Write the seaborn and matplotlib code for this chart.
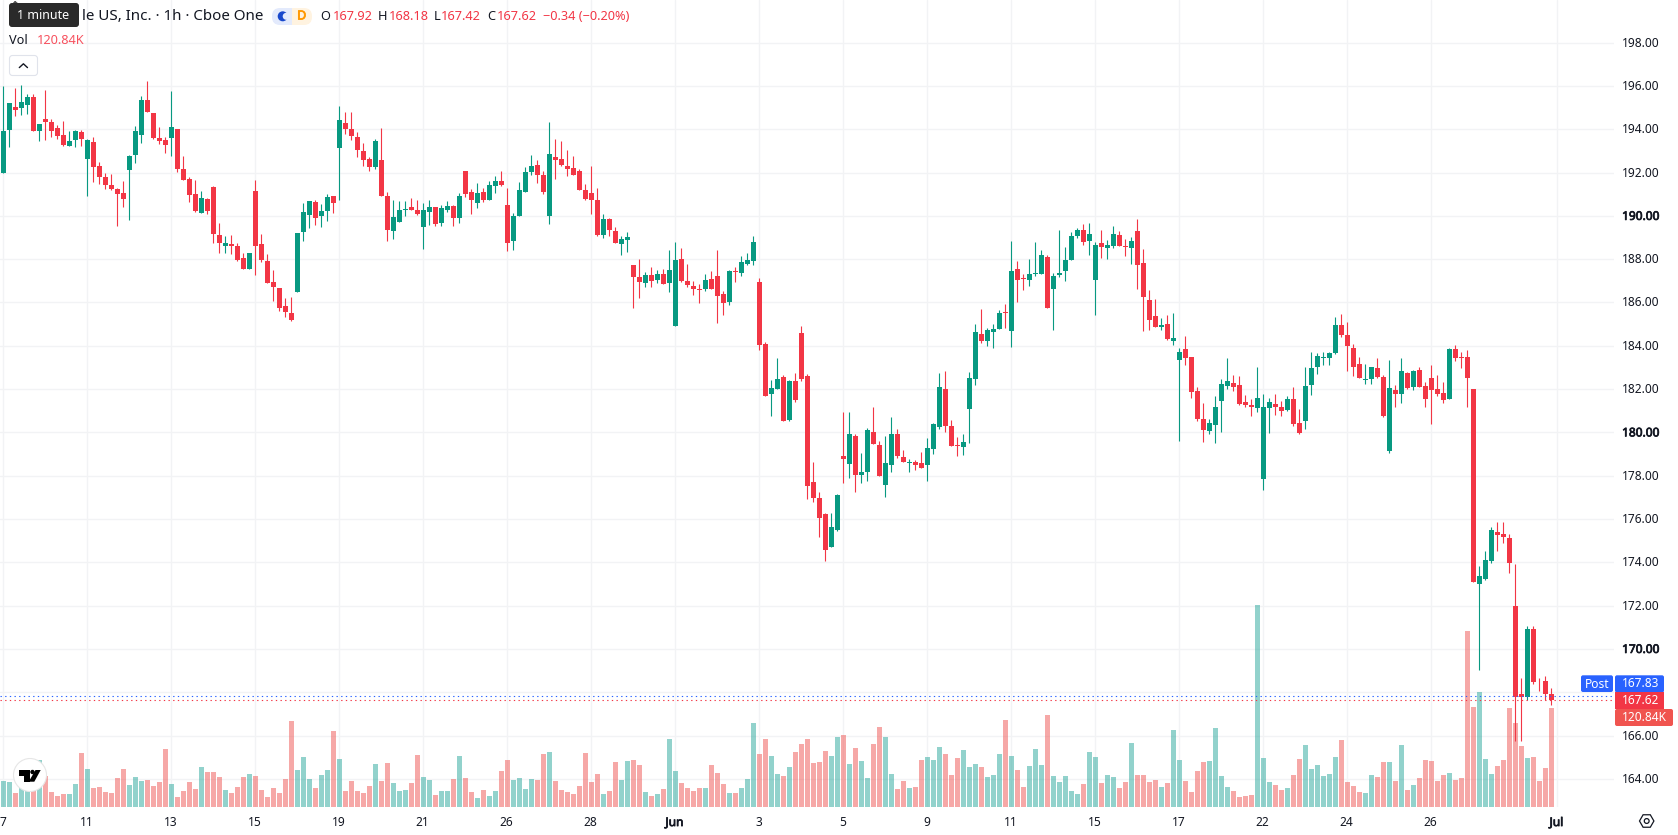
import matplotlib
matplotlib.use("Agg")
import matplotlib.patheffects as path_effects
import matplotlib.pyplot as plt
import matplotlib.transforms as mtransforms
from matplotlib.lines import Line2D
from matplotlib.patches import Circle, FancyBboxPatch, Polygon, Rectangle, RegularPolygon
import numpy as np
import pandas as pd
import seaborn as sns

# Hourly candles, oldest first (USD)
open_prices = [
    192.00,193.97,195.03,194.99,195.12,195.49,193.92,194.48,194.34,194.06,
    193.74,193.23,193.51,193.88,192.63,193.42,192.31,191.80,191.43,191.25,
    191.06,192.12,192.82,193.74,195.35,194.75,193.60,193.51,193.60,194.02,
    192.17,191.71,191.02,190.14,190.79,191.34,189.12,188.62,188.71,188.62,
    188.06,187.55,191.15,188.71,187.92,186.95,186.68,185.85,185.52,186.49,
    189.26,190.05,190.65,190.00,190.23,190.92,193.14,194.29,194.02,193.65,
    193.00,192.63,192.26,192.59,190.92,189.31,189.72,190.28,190.42,190.28,
    189.49,190.19,190.42,189.68,190.28,190.46,189.91,192.08,191.11,190.60,
    191.11,190.74,191.39,191.62,190.51,188.85,190.00,191.11,192.03,192.35,
    191.89,190.00,192.72,192.63,192.31,192.22,192.08,191.20,191.06,190.74,
    189.12,189.86,189.31,188.71,188.89,187.74,187.19,186.91,187.28,187.05,
    187.32,186.91,184.92,188.02,187.00,186.77,186.63,186.63,187.09,187.23,
    186.40,186.03,187.46,187.37,187.79,187.92,186.95,184.09,181.79,182.02,
    182.57,180.59,182.39,184.60,182.62,177.72,176.99,176.25,174.72,175.51,
    178.92,178.56,179.85,178.05,178.19,180.03,179.43,177.59,178.51,179.94,
    178.88,178.60,178.65,178.60,178.51,179.25,180.26,182.02,180.31,179.43,
    179.34,181.09,182.48,184.56,184.23,184.65,184.79,185.57,184.69,187.56,
    187.14,187.05,187.32,187.32,188.11,186.63,187.28,187.46,187.97,189.08,
    189.36,188.85,187.05,188.76,188.52,188.62,189.12,188.62,188.52,189.31,
    187.83,186.12,185.39,184.87,185.01,184.23,183.35,183.86,183.49,181.92,
    180.63,180.07,180.35,181.46,182.15,182.29,182.20,181.41,181.27,181.14,
    177.86,181.14,181.32,181.18,181.04,181.55,180.44,180.54,182.20,183.03,
    183.44,183.44,183.67,184.97,184.50,183.90,183.17,182.43,182.47,182.98,
    182.57,179.15,181.97,181.78,182.75,182.10,182.89,182.15,182.52,182.01,
    181.83,181.55,183.86,183.49,183.49,182.02,173.02,173.25,174.04,175.42,
    175.33,175.14,172.00,167.94,167.76,170.94,168.54,168.50,167.92,
]
high_prices = [
    196.00,195.22,195.91,196.05,195.63,195.63,194.25,195.82,194.48,194.20,
    194.39,193.92,193.97,193.97,193.55,193.65,192.49,191.99,191.94,191.29,
    191.62,192.82,194.15,195.54,196.23,194.75,194.11,193.65,195.77,194.02,
    192.77,191.80,191.66,191.15,190.83,191.39,189.68,189.08,189.12,188.75,
    188.29,188.29,191.66,189.17,188.25,187.51,186.68,186.22,186.26,189.22,
    190.60,190.69,190.74,190.55,191.02,190.92,195.08,194.80,194.80,193.88,
    193.37,192.72,193.55,194.06,191.11,190.74,190.69,190.69,190.83,190.74,
    190.60,190.74,190.42,190.51,190.69,190.51,191.06,192.08,191.25,191.52,
    191.29,191.62,191.85,192.08,191.29,190.14,191.57,192.26,192.82,192.59,
    192.08,194.34,193.55,193.46,193.05,192.77,192.17,191.48,192.31,191.29,
    190.09,189.91,189.49,189.08,189.26,187.74,188.01,187.42,187.65,187.51,
    187.55,188.43,188.80,188.52,187.79,187.00,186.86,187.32,187.46,188.43,
    186.54,187.51,187.65,188.15,188.29,189.08,187.14,184.19,182.43,183.45,
    182.66,182.43,182.75,184.92,182.71,178.65,177.26,176.29,176.29,177.17,
    180.96,180.96,179.94,179.06,180.22,181.19,179.62,179.85,180.72,180.17,
    179.20,178.79,178.74,179.11,179.76,180.45,182.76,182.85,180.59,179.80,
    179.94,182.80,185.02,185.71,184.83,185.02,185.66,185.94,188.85,187.92,
    187.32,188.02,188.80,188.43,188.20,187.37,189.36,188.57,189.26,189.45,
    189.63,189.68,188.80,189.36,188.89,189.54,189.31,188.94,189.03,189.86,
    188.48,186.59,186.17,185.29,185.43,185.52,183.90,184.46,183.49,182.10,
    181.37,180.63,181.69,182.47,183.44,182.66,182.61,181.74,181.55,183.03,
    181.78,181.60,181.78,181.46,181.69,182.10,181.09,183.03,183.72,183.67,
    183.72,183.72,185.34,185.47,185.10,184.09,183.49,183.17,183.03,183.44,
    182.66,183.35,182.20,183.44,182.80,182.89,183.03,182.34,183.12,182.66,
    182.34,183.90,184.04,183.72,183.81,182.02,173.85,174.50,175.65,175.84,
    175.84,175.33,173.90,168.64,171.08,171.08,168.68,168.73,168.18,
]
low_prices = [
    192.00,193.20,194.59,194.66,194.71,193.92,193.46,193.51,193.65,193.55,
    193.23,193.23,193.18,193.23,190.92,191.57,191.48,191.25,191.20,189.54,
    190.42,189.82,192.45,193.37,194.80,193.55,193.32,192.91,192.77,192.03,
    191.66,190.65,190.19,190.14,190.09,188.75,188.29,188.29,188.25,187.92,
    187.55,187.55,187.28,187.88,186.91,186.08,185.62,185.34,185.15,186.49,
    188.85,189.45,189.59,189.49,189.77,190.14,190.74,193.79,193.51,192.72,
    192.31,192.08,192.17,190.92,188.85,188.94,189.72,190.00,190.28,190.05,
    188.48,189.59,189.54,189.54,190.19,189.54,189.68,190.88,190.09,190.37,
    190.65,190.74,191.06,191.39,188.39,188.43,190.00,191.11,191.89,191.52,
    191.02,189.63,191.71,192.31,191.85,191.89,191.20,190.74,190.09,189.08,
    188.99,189.08,188.75,188.20,188.34,185.75,186.22,186.72,186.72,186.91,
    186.86,186.49,184.92,186.95,186.72,186.35,185.99,186.54,186.63,185.06,
    185.43,185.89,186.95,187.23,187.74,187.74,183.82,181.69,180.77,182.02,
    180.54,180.54,181.42,182.39,176.94,176.80,175.19,174.08,174.72,175.46,
    177.68,177.91,177.26,177.68,177.77,179.48,178.00,177.03,178.19,178.83,
    178.65,178.19,178.28,178.37,177.77,179.02,180.17,180.03,179.39,178.92,
    178.97,179.52,182.20,184.14,184.00,183.91,184.79,184.83,183.96,186.03,
    186.59,186.77,187.23,187.32,185.76,184.74,187.19,187.00,187.97,188.99,
    188.66,188.20,185.43,188.06,188.02,188.52,188.62,188.16,187.79,186.63,
    184.69,184.74,184.88,184.74,184.27,184.04,179.61,183.12,181.60,180.54,
    179.57,179.94,179.52,180.03,182.01,181.92,181.27,181.18,180.77,180.95,
    177.35,179.98,180.81,180.77,181.00,180.30,179.94,180.17,181.74,182.70,
    183.12,183.12,183.63,184.41,182.84,182.61,182.52,182.24,182.24,182.52,
    180.72,179.06,181.18,181.37,182.01,181.97,182.10,181.18,180.40,181.69,
    181.37,181.55,183.30,182.98,181.18,173.08,169.05,173.20,173.99,174.50,
    174.91,173.53,165.77,165.77,167.62,168.36,168.04,167.62,167.42,
]
close_prices = [
    193.92,195.22,194.89,195.26,195.49,193.92,194.25,194.34,193.92,193.69,
    193.28,193.46,193.92,193.55,193.51,192.26,191.80,191.43,191.25,191.02,
    190.79,192.77,193.92,195.35,194.80,193.60,193.46,193.28,194.11,192.17,
    191.66,190.97,190.23,190.83,190.23,189.17,188.75,188.75,188.62,187.97,
    187.55,188.29,188.62,187.97,186.91,186.72,185.75,185.57,185.20,189.22,
    190.19,190.69,189.91,190.23,190.88,190.60,194.43,194.02,193.69,193.05,
    192.59,192.26,193.46,190.92,189.35,189.95,190.28,190.32,190.28,190.09,
    190.28,190.42,189.63,190.37,190.46,189.91,190.92,191.02,190.74,191.06,
    190.74,191.43,191.62,191.43,188.75,190.00,191.20,192.03,192.31,191.89,
    191.11,192.86,192.59,192.35,192.17,191.89,191.20,190.79,190.74,189.12,
    189.86,189.35,188.75,188.94,189.03,187.19,186.95,187.28,187.00,187.32,
    186.86,187.51,187.97,187.00,186.82,186.63,186.59,187.05,186.63,186.31,
    185.99,187.46,187.42,187.88,187.97,188.80,184.05,181.69,182.06,182.48,
    180.54,182.39,181.51,182.48,177.54,176.99,176.06,174.59,175.65,177.12,
    178.79,179.94,178.05,178.19,180.12,179.48,178.00,178.60,179.94,178.92,
    178.65,178.65,178.51,178.37,179.29,180.40,182.11,180.31,179.39,179.39,
    179.57,182.52,184.65,184.23,184.74,184.79,185.52,185.52,187.46,187.05,
    187.09,187.32,187.37,188.20,185.76,187.23,187.37,187.97,189.08,189.36,
    188.80,189.17,188.66,188.57,188.66,189.17,188.62,188.57,188.85,187.74,
    186.26,185.20,184.88,184.97,184.32,184.37,183.72,183.44,181.87,180.63,
    180.12,180.44,181.18,182.24,182.38,182.10,181.32,181.27,181.18,181.60,
    181.18,181.41,181.18,181.00,181.55,180.40,179.98,182.15,182.98,183.54,
    183.49,183.67,184.97,184.50,184.00,183.03,182.52,182.47,183.03,182.57,
    180.77,182.06,181.78,182.84,182.06,182.84,182.10,181.55,181.97,181.78,
    181.50,183.86,183.44,183.44,182.52,173.08,173.39,174.13,175.51,175.24,
    175.19,173.99,167.80,167.76,170.94,168.45,168.50,167.94,167.62,
]
# Traded volume per candle, thousands of shares
volumes_k = [
    31.7,30.5,17.1,24.4,24.4,20.8,57.4,37.8,18.3,13.4,
    15.9,15.9,28.1,65.9,46.4,23.2,24.4,18.3,17.1,35.4,
    46.4,26.9,36.6,31.7,33.0,25.6,30.5,70.8,28.1,12.2,
    19.5,30.5,22.0,48.8,42.7,42.7,36.6,20.8,17.1,24.4,
    36.6,40.3,37.8,20.8,12.2,23.2,17.1,34.2,105.0,45.2,
    61.0,34.2,23.2,39.1,45.2,92.8,58.6,19.5,31.7,19.5,
    17.1,25.6,52.5,31.7,53.7,29.3,19.5,20.8,29.3,63.5,
    36.6,33.0,14.6,19.5,19.5,34.2,62.3,35.4,18.3,11.0,
    20.8,13.4,19.5,43.9,57.4,33.0,35.4,22.0,34.2,33.0,
    64.7,67.1,31.7,20.8,18.3,15.9,25.6,65.9,30.5,40.3,
    15.9,19.5,54.9,33.0,56.1,57.4,51.3,18.3,13.4,15.9,
    22.0,83.0,43.9,29.3,23.2,19.5,23.2,23.2,51.3,41.5,
    28.1,17.1,17.1,23.2,34.2,102.5,64.7,83.0,62.3,40.3,
    37.8,48.8,67.1,76.9,83.0,53.7,54.9,68.4,62.3,85.4,
    87.9,52.5,72.0,56.1,35.4,76.9,97.6,85.4,40.3,22.0,
    31.7,23.2,24.4,57.4,61.0,57.4,73.2,64.7,39.1,59.8,
    69.6,48.8,52.5,48.8,36.6,39.1,64.7,106.2,62.3,45.2,
    24.4,50.0,70.8,51.3,112.3,37.8,30.5,37.8,19.5,15.9,
    28.1,67.1,61.0,29.3,39.1,36.6,23.2,30.5,78.1,39.1,
    39.1,30.5,33.0,24.4,29.3,94.0,57.4,31.7,18.3,43.9,
    54.9,56.1,96.4,37.8,24.4,19.5,12.2,13.4,14.6,246.6,
    59.8,30.5,26.9,20.8,23.2,39.1,58.6,75.7,46.4,51.3,
    37.8,40.3,61.0,81.8,30.5,25.6,18.3,17.1,39.1,36.6,
    54.9,54.9,31.7,75.7,20.8,26.9,35.4,57.4,56.1,31.7,
    39.1,41.5,33.0,35.4,214.8,122.1,140.4,58.6,40.3,50.0,
    57.4,120.84,102.5,74.5,59.8,61.0,31.7,47.6,120.84,
]

price_levels = list(range(164, 200, 2))
bold_levels = [170, 180, 190]
hidden_levels = [168]
date_positions = [0, 14, 28, 42, 56, 70, 84, 98, 112, 126, 140, 154, 168, 182, 196, 210, 224, 238, 259]
date_labels = ["7", "11", "13", "15", "19", "21", "26", "28", "Jun", "3", "5", "9", "11", "15", "17", "22", "24", "26", "Jul"]
bold_dates = ["Jun", "Jul"]
last_price = 167.62
post_price = 167.83

UP, DOWN = "#089981", "#F23645"
VOL_UP, VOL_DOWN = "#26A69A", "#EF5350"
INK = "#131722"
GRID = "#F2F3F5"
BLUE = "#2962FF"

WIDTH, HEIGHT = 1678, 835
PLOT_RIGHT, PLOT_BOTTOM = 1614, 807
X_LIMITS = (-0.583, 268.42)
PRICE_LIMITS = (162.70, 199.97)
VOLUME_LIMITS = (0, 985)

sns.set_theme(style="white")
plt.rcParams["font.family"] = ["Noto Sans", "DejaVu Sans"]

frame = pd.DataFrame({
    "bar": np.arange(len(close_prices)),
    "open": open_prices, "high": high_prices, "low": low_prices, "close": close_prices,
    "volume": volumes_k,
})
frame["side"] = np.where(frame["close"] >= frame["open"], "up", "down")
frame["color"] = frame["side"].map({"up": UP, "down": DOWN})

fig = plt.figure(figsize=(WIDTH / 100, HEIGHT / 100), dpi=100, facecolor="white")
rect = [0, (HEIGHT - PLOT_BOTTOM) / HEIGHT, PLOT_RIGHT / WIDTH, PLOT_BOTTOM / HEIGHT]

# Pixel frame for the chart furniture: origin top-left, y downwards
px = mtransforms.Affine2D().scale(1 / WIDTH, -1 / HEIGHT).translate(0, 1) + fig.transFigure


def embolden(text_artist, color=INK):
    # The installed sans has a single weight, so heavier labels get a thin outline
    text_artist.set_path_effects([path_effects.withStroke(linewidth=0.55, foreground=color)])


# Grid and both scales live on the base axes
ax = fig.add_axes(rect, zorder=1)
ax.set_xlim(*X_LIMITS)
ax.set_ylim(*PRICE_LIMITS)
sns.despine(ax=ax, left=True, bottom=True, top=True, right=True)
ax.yaxis.tick_right()
ax.set_yticks(price_levels)
ax.set_yticklabels([f"{p:.2f}" if p not in hidden_levels else "" for p in price_levels])
ax.set_xticks(date_positions)
ax.set_xticklabels(date_labels)
ax.tick_params(axis="y", length=0, pad=5.8, labelsize=8.6, labelcolor=INK)
ax.tick_params(axis="x", length=0, pad=6.5, labelsize=8.6, labelcolor=INK)
nudge_up = mtransforms.ScaledTranslation(0, 1 / 100, fig.dpi_scale_trans)
nudge_left = mtransforms.ScaledTranslation(-1 / 100, 0, fig.dpi_scale_trans)
for level, label in zip(price_levels, ax.get_yticklabels()):
    label.set_ha("left")
    label.set_transform(label.get_transform() + nudge_up)
    if level in bold_levels:
        embolden(label)
for label in ax.get_xticklabels():
    label.set_transform(label.get_transform() + nudge_left)
    if label.get_text() in bold_dates:
        embolden(label)
ax.grid(True, color=GRID, linewidth=1.0)
ax.set_axisbelow(True)

# Volume histogram, pinned to the bottom of the pane
axv = fig.add_axes(rect, zorder=2)
sns.barplot(
    data=frame, x="bar", y="volume", hue="side", hue_order=["up", "down"],
    palette={"up": VOL_UP, "down": VOL_DOWN}, native_scale=True, dodge=False,
    width=5 / 6, saturation=1, alpha=0.5, linewidth=0, errorbar=None,
    legend=False, ax=axv,
)
axv.set_xlim(*X_LIMITS)
axv.set_ylim(*VOLUME_LIMITS)
axv.axis("off")

# Candles on top
axc = fig.add_axes(rect, zorder=3)
axc.set_xlim(*X_LIMITS)
axc.set_ylim(*PRICE_LIMITS)
axc.axis("off")
axc.vlines(frame["bar"], frame["low"], frame["high"], colors=frame["color"], linewidth=0.8)
axc.bar(
    frame["bar"], (frame["close"] - frame["open"]).abs(),
    bottom=frame[["open", "close"]].min(axis=1), width=5 / 6,
    color=frame["color"], linewidth=0,
)
axc.axhline(post_price, color=BLUE, linewidth=0.8, linestyle=(0, (1.2, 3.0)))
axc.axhline(last_price, color=DOWN, linewidth=0.8, linestyle=(0, (1.2, 3.0)))


def add_label(x, y, text, color=INK, size=8.6, ha="left"):
    return fig.text(x, y, text, transform=px, color=color, fontsize=size, ha=ha, va="center", zorder=20)


def add_box(x0, y0, x1, y1, color, radius=0, edge="none", zorder=10):
    if radius:
        patch = FancyBboxPatch((x0 + radius, y0 + radius), x1 - x0 - 2 * radius, y1 - y0 - 2 * radius,
                               boxstyle=f"round,pad={radius},rounding_size={radius}",
                               facecolor=color, edgecolor=edge, linewidth=0.8, transform=px, zorder=zorder)
    else:
        patch = Rectangle((x0, y0), x1 - x0, y1 - y0, facecolor=color, edgecolor=edge,
                          linewidth=0, transform=px, zorder=zorder)
    fig.add_artist(patch)


# Legend header
add_label(82, 16, "le US, Inc. · 1h · Cboe One", size=10.9)

# Session pill: two tinted halves with rounded outer ends
PILL_BLUE, PILL_ORANGE = "#E3EAFC", "#FFF3E0"
add_box(272, 8, 296, 25, PILL_BLUE, radius=8)
add_box(288, 8, 312, 25, PILL_ORANGE, radius=8)
add_box(284, 8, 292, 25, PILL_BLUE, zorder=10.5)
add_box(292, 8, 300, 25, PILL_ORANGE, zorder=10.5)
fig.add_artist(Circle((282.7, 16.3), 5.0, facecolor="#1848CC", edgecolor="none", transform=px, zorder=11))
fig.add_artist(Circle((286.2, 16.3), 3.5, facecolor=PILL_BLUE, edgecolor="none", transform=px, zorder=12))
embolden(add_label(301.7, 16, "D", color="#FF9800", size=9.0, ha="center"), "#FF9800")

for letter, x_letter, value, x_value in [
    ("O", 320.5, "167.92", 332.5), ("H", 377.5, "168.18", 388.5),
    ("L", 433.5, "167.42", 441.0), ("C", 487.0, "167.62", 496.5),
]:
    add_label(x_letter, 16.3, letter, size=9.2)
    add_label(x_value, 16.3, value, color=DOWN, size=9.2)
add_label(543, 16.3, "−0.34 (−0.20%)", color=DOWN, size=9.2)

add_label(9, 40.5, "Vol", size=9.2)
add_label(36.7, 40.5, "120.84K", color="#F7525F", size=9.2)

# Collapse button
add_box(9.5, 55.5, 37.5, 75.5, "white", radius=3, edge="#E0E3EB")
fig.add_artist(Line2D([19.3, 23.4, 27.5], [67.6, 63.8, 67.6], color=INK, linewidth=1.0, transform=px, zorder=12))

# Interval tooltip
fig.add_artist(Polygon([[11, 3.5], [15, 0], [20, 3.5]], closed=True, facecolor="#2A2A2A", transform=px, zorder=14))
add_box(9, 3, 79, 27, "#2A2A2A", radius=3, zorder=14)
add_label(43.5, 15.5, "1 minute", color="white", size=9.0, ha="center")

# Scale badges
add_box(1581, 675.3, 1613, 692, BLUE, radius=2)
add_box(1615, 675.3, 1664, 692.5, BLUE, radius=2)
add_box(1615, 692, 1664, 709, DOWN)
add_box(1615, 709, 1673, 726, "#F0544F", radius=2)
add_label(1597, 684, "Post", color="white", ha="center")
add_label(1640.5, 683.5, f"{post_price:.2f}", color="white", ha="center")
add_label(1640.5, 700.5, f"{last_price:.2f}", color="white", ha="center")
add_label(1644, 717.5, f"{volumes_k[-1]:.2f}K", color="white", ha="center")

# Settings glyph below the price scale
fig.add_artist(RegularPolygon((1646.7, 821), 6, radius=7.2, orientation=np.pi / 6, facecolor="none",
                              edgecolor=INK, linewidth=0.9, transform=px, zorder=12))
fig.add_artist(Circle((1646.7, 821), 2.4, facecolor="none", edgecolor=INK, linewidth=0.9, transform=px, zorder=12))

# Watermark badge in the lower-left corner
fig.add_artist(Circle((30, 775), 16.5, facecolor="white", edgecolor="#E6E6E6", linewidth=0.8, transform=px, zorder=10))
fig.add_artist(Polygon([[19, 770], [29.5, 770], [29.5, 781.7], [23.6, 781.7], [23.6, 775.5], [19, 775.5]],
                       closed=True, facecolor="black", edgecolor="none", transform=px, zorder=11))
fig.add_artist(Circle((32.5, 772), 2.2, facecolor="black", edgecolor="none", transform=px, zorder=11))
fig.add_artist(Polygon([[35.5, 770], [40.7, 770], [34.3, 781.7], [28.7, 781.7]],
                       closed=True, facecolor="black", edgecolor="none", transform=px, zorder=11))

fig.savefig("out.png", dpi=100, facecolor="white")
